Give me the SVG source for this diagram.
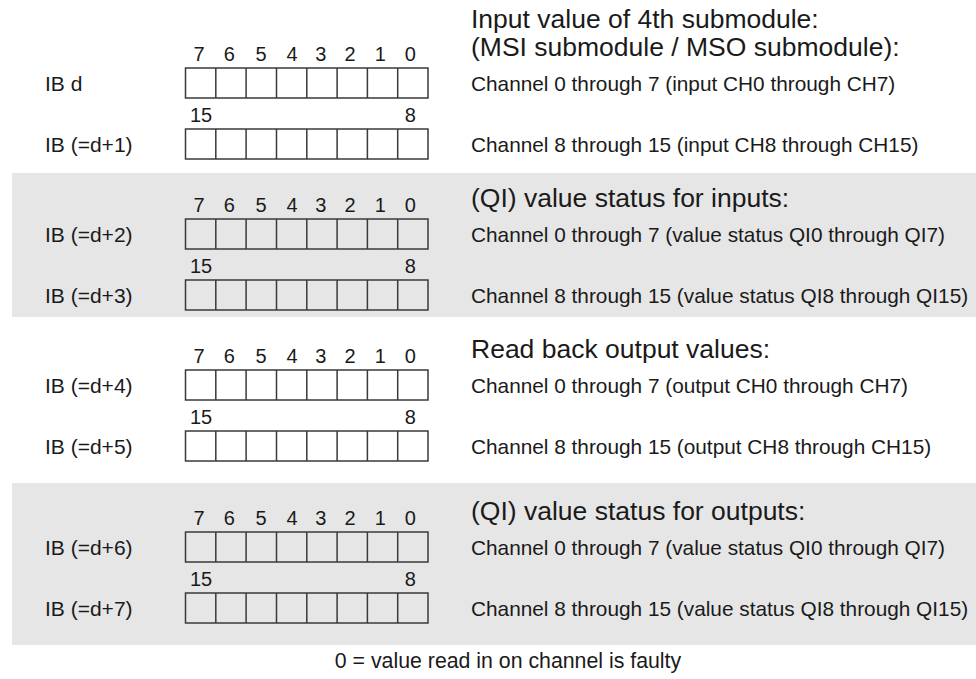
<svg xmlns="http://www.w3.org/2000/svg" xmlns:xlink="http://www.w3.org/1999/xlink" width="976" height="679" viewBox="0 0 976 679">
<style>
  text { font-family: "Liberation Sans", Arial, sans-serif; fill: #1a1a1a; }
  .lbl { font-size: 21px; }
  .ch { font-size: 20.8px; }
  .hd { font-size: 26.5px; }
  .note { font-size: 21.3px; text-anchor: middle; }
  .dg { font-size: 20px; text-anchor: middle; }
  .dgs { font-size: 20px; }
  .band { fill: #e6e6e6; }
  .cell { fill: none; stroke: #3a3a3a; stroke-width: 1.5; }
</style>
<defs>
  <g id="reg">
    <rect class="cell" x="185.5" y="0" width="242.5" height="30"/>
    <path class="cell" d="M215.8 0V30M246.1 0V30M276.5 0V30M306.8 0V30M337.1 0V30M367.4 0V30M397.7 0V30"/>
  </g>
  <g id="bits07">
    <text class="dg" x="199" y="0">7</text>
    <text class="dg" x="229.2" y="0">6</text>
    <text class="dg" x="261" y="0">5</text>
    <text class="dg" x="292" y="0">4</text>
    <text class="dg" x="320.8" y="0">3</text>
    <text class="dg" x="350" y="0">2</text>
    <text class="dg" x="380.2" y="0">1</text>
    <text class="dg" x="410.4" y="0">0</text>
  </g>
  <g id="bits158">
    <text class="dgs" x="190" y="0">15</text>
    <text class="dg" x="410.4" y="0">8</text>
  </g>
</defs>

<rect class="band" x="12" y="173" width="964" height="144"/>
<rect class="band" x="12" y="483" width="964" height="162"/>

<g id="connectors"></g>

<!-- Group 1 -->
<g id="heading1">
  <text class="hd" x="471" y="28">Input value of 4th submodule:</text>
  <text class="hd" x="471" y="56">(MSI submodule / MSO submodule):</text>
</g>
<g id="ib0">
  <use xlink:href="#bits07" y="61"/>
  <text class="lbl" x="45" y="91">IB d</text>
  <use xlink:href="#reg" y="68"/>
  <text class="ch" x="471" y="91">Channel 0 through 7 (input CH0 through CH7)</text>
</g>
<g id="ib1">
  <use xlink:href="#bits158" y="122"/>
  <text class="lbl" x="45" y="152">IB (=d+1)</text>
  <use xlink:href="#reg" y="129"/>
  <text class="ch" x="471" y="152">Channel 8 through 15 (input CH8 through CH15)</text>
</g>

<!-- Group 2 -->
<g id="heading2">
  <text class="hd" x="471" y="207">(QI) value status for inputs:</text>
</g>
<g id="ib2">
  <use xlink:href="#bits07" y="212"/>
  <text class="lbl" x="45" y="242">IB (=d+2)</text>
  <use xlink:href="#reg" y="219"/>
  <text class="ch" x="471" y="242">Channel 0 through 7 (value status QI0 through QI7)</text>
</g>
<g id="ib3">
  <use xlink:href="#bits158" y="273"/>
  <text class="lbl" x="45" y="303">IB (=d+3)</text>
  <use xlink:href="#reg" y="280"/>
  <text class="ch" x="471" y="303">Channel 8 through 15 (value status QI8 through QI15)</text>
</g>

<!-- Group 3 -->
<g id="heading3">
  <text class="hd" x="471" y="358">Read back output values:</text>
</g>
<g id="ib4">
  <use xlink:href="#bits07" y="363"/>
  <text class="lbl" x="45" y="393">IB (=d+4)</text>
  <use xlink:href="#reg" y="370"/>
  <text class="ch" x="471" y="393">Channel 0 through 7 (output CH0 through CH7)</text>
</g>
<g id="ib5">
  <use xlink:href="#bits158" y="424"/>
  <text class="lbl" x="45" y="454">IB (=d+5)</text>
  <use xlink:href="#reg" y="431"/>
  <text class="ch" x="471" y="454">Channel 8 through 15 (output CH8 through CH15)</text>
</g>

<!-- Group 4 -->
<g id="heading4">
  <text class="hd" x="471" y="520">(QI) value status for outputs:</text>
</g>
<g id="ib6">
  <use xlink:href="#bits07" y="525"/>
  <text class="lbl" x="45" y="555">IB (=d+6)</text>
  <use xlink:href="#reg" y="532"/>
  <text class="ch" x="471" y="555">Channel 0 through 7 (value status QI0 through QI7)</text>
</g>
<g id="ib7">
  <use xlink:href="#bits158" y="586"/>
  <text class="lbl" x="45" y="616">IB (=d+7)</text>
  <use xlink:href="#reg" y="593"/>
  <text class="ch" x="471" y="616">Channel 8 through 15 (value status QI8 through QI15)</text>
</g>

<g id="note">
  <text class="note" x="508" y="668">0 = value read in on channel is faulty</text>
</g>
</svg>
